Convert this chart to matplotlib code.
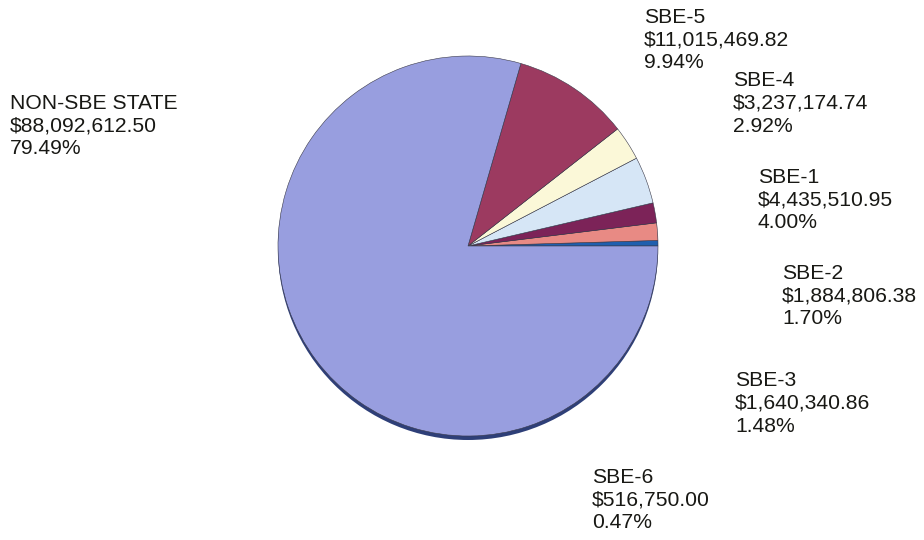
import numpy as np
import matplotlib.pyplot as plt
from matplotlib.patches import Ellipse

plt.rcParams['font.family'] = ['Liberation Sans', 'DejaVu Sans']

# spend by vendor group, counter-clockwise from 3 o'clock
groups = ['SBE-6', 'SBE-3', 'SBE-2', 'SBE-1', 'SBE-4', 'SBE-5', 'NON-SBE STATE']
amounts = [516750.00, 1640340.86, 1884806.38, 4435510.95, 3237174.74,
           11015469.82, 88092612.50]
pcts = [0.47, 1.48, 1.70, 4.00, 2.92, 9.94, 79.49]
colors = ['#1f5fae', '#e88a84', '#7c2358', '#d6e6f6', '#fbf8d8', '#9c3a60', '#989edf']

# where each label block sits (top-left, pixel coords)
label_xy = {
    'SBE-6': (592, 468), 'SBE-3': (735, 371), 'SBE-2': (782, 264),
    'SBE-1': (758, 168), 'SBE-4': (733, 71), 'SBE-5': (644, 8),
    'NON-SBE STATE': (10, 94),
}

W, H = 924, 540
fig = plt.figure(figsize=(W / 100, H / 100), dpi=100)
ax = fig.add_axes([0, 0, 1, 1])

cx, cy, r = 468, H - 246, 190

# dark rim under the pie for the tilted look
ax.add_patch(Ellipse((cx, cy - 3), 2 * r, 2 * r + 2, facecolor='#2e3f78',
                     edgecolor='none', zorder=0))

ax.pie(amounts, colors=colors, startangle=0, counterclock=True,
       center=(cx, cy), radius=r, frame=True,
       wedgeprops=dict(edgecolor='#3a3a4a', linewidth=0.4))

for g, amt, p in zip(groups, amounts, pcts):
    x, y = label_xy[g]
    ax.text(x, H - y, f'{g}\n${amt:,.2f}\n{p:.2f}%', ha='left', va='top',
            fontsize=15.2, color='#181814', linespacing=1.25)

ax.set_xlim(0, W)
ax.set_ylim(0, H)
ax.set_aspect('equal')
ax.axis('off')

fig.savefig('out.png', dpi=100, facecolor='white')
